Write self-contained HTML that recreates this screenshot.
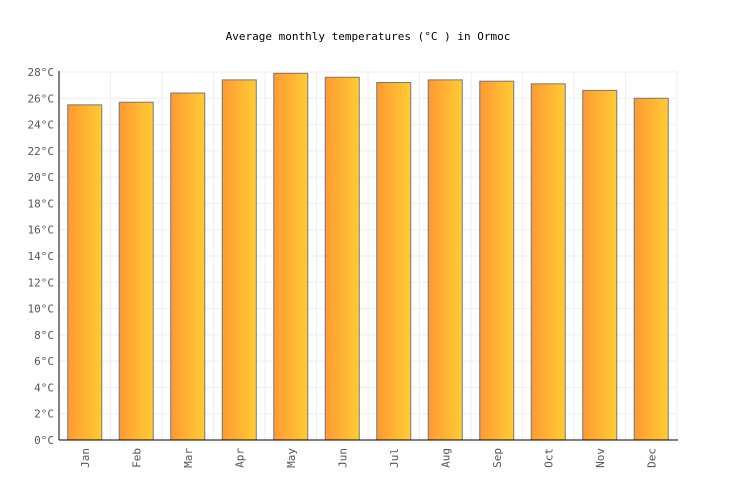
<!DOCTYPE html>
<html><head><meta charset="utf-8"><style>
body{margin:0;background:#fff;}
svg{display:block;font-family:"DejaVu Sans Mono","Liberation Mono",monospace;}
</style></head><body>
<svg id="chart" width="736" height="500">
<defs><linearGradient id="g" x1="0" x2="1" y1="0" y2="0"><stop offset="0" stop-color="#ff9933"/><stop offset="1" stop-color="#ffcc33"/></linearGradient></defs>
<text x="368" y="40" text-anchor="middle" font-size="11" fill="#000">Average monthly temperatures (°C ) in Ormoc</text>
<g id="grid"></g><g id="bars"></g><g id="axes"></g>
</svg>
<script>
const categories=["Jan","Feb","Mar","Apr","May","Jun","Jul","Aug","Sep","Oct","Nov","Dec"];
const temps=[25.5,25.7,26.4,27.4,27.9,27.6,27.2,27.4,27.3,27.1,26.6,26.0];
const yTicks=[0,2,4,6,8,10,12,14,16,18,20,22,24,26,28];
const NS="http://www.w3.org/2000/svg";
const x0=59,x1=677,y0=440,yTop=72,yMax=28;
const bw=(x1-x0)/categories.length;
const y=v=>y0-(v/yMax)*(y0-yTop);
const xc=i=>x0+bw*(i+0.5);
function mk(t,a,p){const e=document.createElementNS(NS,t);for(const k in a)e.setAttribute(k,a[k]);p.appendChild(e);return e;}
const grid=document.getElementById('grid'),bars=document.getElementById('bars'),axes=document.getElementById('axes');
yTicks.forEach(v=>{
 const l=mk('line',{x1:x0,x2:x1,y1:y(v),y2:y(v),stroke:'#eeeeee'},grid);
 
 
 const t=mk('text',{x:x0-5,y:y(v)+4,'text-anchor':'end','font-size':11,fill:'#555'},axes);
 t.textContent=v+'°C';
 
 
});
for(let i=0;i<=categories.length;i++){
 const l=mk('line',{x1:x0+bw*i,x2:x0+bw*i,y1:yTop,y2:y0,stroke:'#eeeeee'},grid);
 
 
}
categories.forEach((c,i)=>{
 const r=mk('rect',{x:xc(i)-17,y:y(temps[i]),width:34,height:y0-y(temps[i]),fill:'url(#g)',stroke:'#777','stroke-width':1},bars);
 
 
 const t=mk('text',{transform:`translate(${xc(i)+4},448) rotate(-90)`,'text-anchor':'end','font-size':11,fill:'#555'},axes);
 t.textContent=c;
 
 
});
const ya=mk('line',{x1:x0,x2:x0,y1:yTop-1,y2:y0,stroke:'#000'},axes);


const xa=mk('line',{x1:x0,x2:x1+1,y1:y0,y2:y0,stroke:'#000'},axes);


</script>
</body></html>
